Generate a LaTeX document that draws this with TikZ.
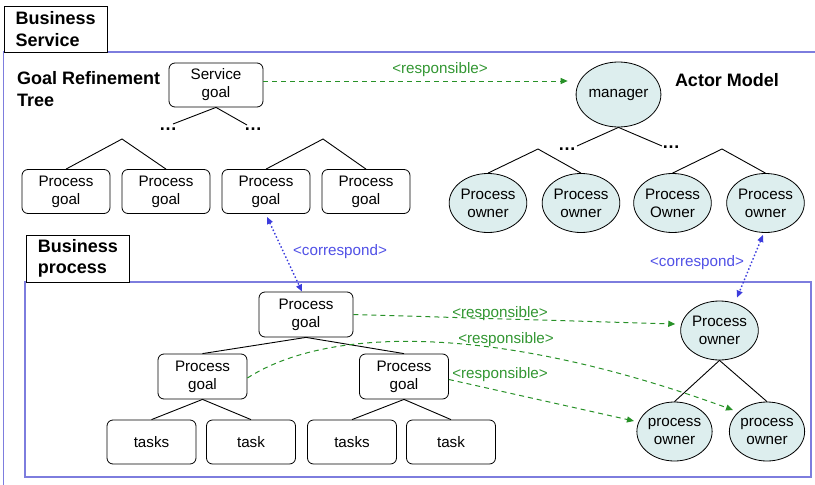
\documentclass[tikz,border=0pt]{standalone}
\usepackage{fontspec}
\setmainfont{Liberation Sans}
\usetikzlibrary{shapes.geometric,arrows.meta}
\definecolor{framecol}{RGB}{125,125,222}
\definecolor{ownfill}{RGB}{221,238,238}
\definecolor{respcol}{RGB}{40,145,40}
\definecolor{resptext}{RGB}{50,150,50}
\definecolor{corrcol}{RGB}{60,60,220}
\definecolor{corrtext}{RGB}{80,80,230}
\begin{document}
\begin{tikzpicture}[x=1pt,y=-1pt,
  txt/.style={font=\fontsize{15.2}{18}\selectfont},
  goalbox/.style={txt, draw, rounded corners=6pt, minimum width=88pt, minimum height=44pt, align=center, inner sep=1pt, line width=0.8pt},
  owner/.style={txt, ellipse, draw, fill=ownfill, minimum width=74pt, minimum height=59pt, inner sep=0pt, align=center, line width=0.8pt},
  title/.style={font=\fontsize{18}{21.5}\selectfont\bfseries, align=left, inner sep=0pt},
  tab/.style={title, draw, fill=white, line width=0.8pt, anchor=north west},
  frame/.style={draw=framecol, line width=1.4pt},
  tree/.style={draw=black, line width=0.9pt},
  dotsnode/.style={font=\fontsize{18}{18}\selectfont\bfseries, inner sep=0pt},
  resp/.style={draw=respcol, line width=1pt, dash pattern=on 5pt off 4pt, -{Triangle[length=7pt,width=6pt]}},
  corr/.style={draw=corrcol, line width=1.4pt, dash pattern=on 1.5pt off 2.2pt, {Triangle[length=7pt,width=6pt]}-{Triangle[length=7pt,width=6pt]}},
  rlab/.style={txt, text=resptext, inner sep=0pt},
  clab/.style={txt, text=corrtext, inner sep=0pt}
]
\useasboundingbox (0,0) rectangle (815,485);
\clip (0,0) rectangle (815,485);

% frames
\draw[frame] (3.5,540) -- (3.5,52) -- (840,52);
\draw[frame] (25,282) rectangle (811,477);

% tabs
\node[tab, minimum width=103.5pt, minimum height=46.5pt] (bstab) at (3.5,5.5) {Business\\Service};
\node[tab, minimum width=103pt, minimum height=47pt] (bptab) at (26,234.5) {Business\\process};

% titles
\node[title, anchor=west] (grt) at (17,89) {Goal Refinement\\Tree};
\node[title] (am) at (727,80) {Actor Model};

% goal refinement tree
\node[goalbox, minimum width=94pt] (sg) at (216,85) {Service\\goal};
\coordinate (sgl) at (173,124);
\coordinate (sgr) at (247,125);
\node[dotsnode] (dt1) at (168,129) {…};
\node[dotsnode] (dt2) at (253,129) {…};
\draw[tree] (sgl) -- (sg.south) -- (sgr);

\node[goalbox] (pg1) at (66,191.5) {Process\\goal};
\node[goalbox] (pg2) at (166,191.5) {Process\\goal};
\node[goalbox] (pg3) at (266,191.5) {Process\\goal};
\node[goalbox] (pg4) at (366,191.5) {Process\\goal};
\coordinate (ap1) at (122,139);
\coordinate (ap2) at (323,139);
\draw[tree] (pg1.north) -- (ap1) -- (pg2.north);
\draw[tree] (pg3.north) -- (ap2) -- (pg4.north);

% actor model
\node[owner, minimum width=79pt, minimum height=65pt] (mgr) at (618.5,94.5) {manager};
\coordinate (mgl) at (577,146);
\coordinate (mgr2) at (662,146);
\node[dotsnode] (dt3) at (567,149) {…};
\node[dotsnode] (dt4) at (671,147) {…};
\draw[tree] (mgl) -- (mgr.south) -- (mgr2);

\node[owner] (o1) at (488,203) {Process\\owner};
\node[owner] (o2) at (581,203) {Process\\owner};
\node[owner] (o3) at (672.5,203) {Process\\Owner};
\node[owner] (o4) at (765.5,203) {Process\\owner};
\coordinate (ap3) at (538,149);
\coordinate (ap4) at (722,149);
\draw[tree] (o1.north) -- (ap3) -- (o2.north);
\draw[tree] (o3.north) -- (ap4) -- (o4.north);

% business process
\node[goalbox, minimum width=94pt, minimum height=45pt] (bpg) at (306,314.5) {Process\\goal};
\node[goalbox, minimum width=89pt, minimum height=45pt] (bpl) at (202.5,376.5) {Process\\goal};
\node[goalbox, minimum width=89pt, minimum height=45pt] (bpr) at (404,376.5) {Process\\goal};
\draw[tree] (bpl.north) -- (bpg.south) -- (bpr.north);

\node[goalbox, minimum width=89pt] (t1) at (151.5,442) {tasks};
\node[goalbox, minimum width=89pt] (t2) at (251,442) {task};
\node[goalbox, minimum width=89pt] (t3) at (352,442) {tasks};
\node[goalbox, minimum width=89pt] (t4) at (451,442) {task};
\draw[tree] (t1.north) -- (bpl.south) -- (t2.north);
\draw[tree] (t3.north) -- (bpr.south) -- (t4.north);

\node[owner, minimum width=75pt] (po) at (719.5,330.5) {Process\\owner};
\node[owner, minimum width=75pt] (p1) at (674.5,431.5) {process\\owner};
\node[owner, minimum width=75pt] (p2) at (767,431.5) {process\\owner};
\draw[tree] (p1.north) -- (po.south) -- (p2.north);

% responsible arrows
\draw[resp] ([yshift=4pt]sg.east) -- ([xshift=-8pt,yshift=13.5pt]mgr.west);
\node[rlab] (r0) at (440,70) {<responsible>};

\draw[resp] (bpg.east) -- ([xshift=-5pt,yshift=6.5pt]po.west);
\node[rlab] (r1) at (500,314) {<responsible>};

\draw[resp] ([yshift=-1.5pt]bpl.east) .. controls (330,325) and (500,325) .. ([xshift=-34pt,yshift=21.5pt]p2.center);
\node[rlab] (r2) at (506,340) {<responsible>};

\draw[resp] ([yshift=-3pt]bpr.east) -- ([xshift=-2.5pt,yshift=10.5pt]p1.west);
\node[rlab] (r3) at (500,375) {<responsible>};

% correspond arrows
\draw[corr] ([xshift=1pt,yshift=-3pt]pg3.south) -- ([xshift=-4pt]bpg.north);
\node[clab] (c1) at (340,252) {<correspond>};
\draw[corr] ([xshift=-2.5pt,yshift=-2pt]o4.south) -- ([xshift=17.5pt,yshift=3pt]po.north);
\node[clab] (c2) at (697,263) {<correspond>};
\end{tikzpicture}
\end{document}
